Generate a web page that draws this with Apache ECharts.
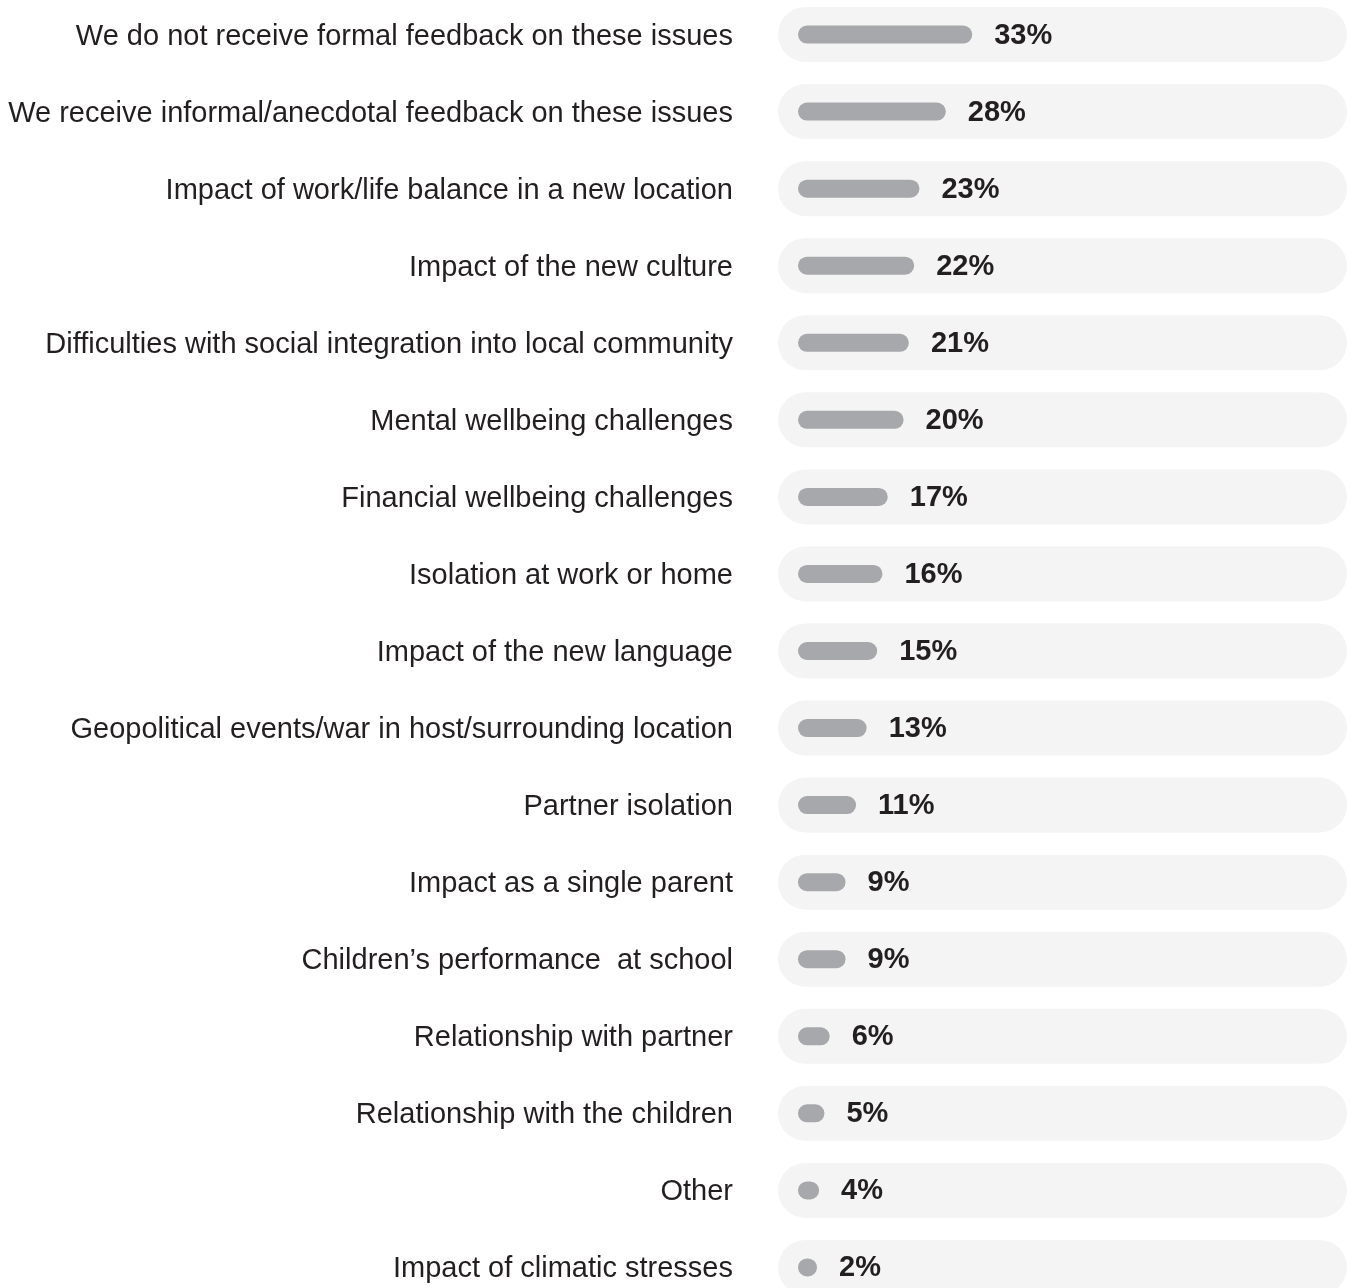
<!DOCTYPE html>
<html>
<head>
<meta charset="utf-8">
<script src="https://cdn.jsdelivr.net/npm/echarts@6/dist/echarts.min.js"></script>
<style>
html,body{margin:0;padding:0;background:#fff;}
#chart{width:1354px;height:1288px;}
</style>
</head>
<body>
<div id="chart"></div>
<script>
const categories = [
  "We do not receive formal feedback on these issues",
  "We receive informal/anecdotal feedback on these issues",
  "Impact of work/life balance in a new location",
  "Impact of the new culture",
  "Difficulties with social integration into local community",
  "Mental wellbeing challenges",
  "Financial wellbeing challenges",
  "Isolation at work or home",
  "Impact of the new language",
  "Geopolitical events/war in host/surrounding location",
  "Partner isolation",
  "Impact as a single parent",
  "Children\u2019s performance  at school",
  "Relationship with partner",
  "Relationship with the children",
  "Other",
  "Impact of climatic stresses"
];
const values = [33, 28, 23, 22, 21, 20, 17, 16, 15, 13, 11, 9, 9, 6, 5, 4, 2];

const chart = echarts.init(document.getElementById('chart'), null, {renderer: 'canvas'});
const FONT = '"Liberation Sans", Arial, Helvetica, sans-serif';
const gridTop = -4, gridHeight = 1310;
chart.setOption({
  animation: false,
  backgroundColor: '#ffffff',
  grid: [
    {left: 778, right: 7, top: gridTop, height: gridHeight, containLabel: false, outerBoundsMode: 'none'},
    {left: 798, width: 528, top: gridTop, height: gridHeight, containLabel: false, outerBoundsMode: 'none'},
    {left: 778, right: 7, top: gridTop + 2, height: gridHeight, containLabel: false, outerBoundsMode: 'none'}
  ],
  xAxis: [
    {gridIndex: 0, type: 'value', min: 0, max: 1, show: false},
    {gridIndex: 1, type: 'value', min: 0, max: 100, show: false},
    {gridIndex: 2, type: 'value', min: 0, max: 1, show: false}
  ],
  yAxis: [
    {gridIndex: 0, type: 'category', data: categories, inverse: true, show: false},
    {gridIndex: 1, type: 'category', data: categories, inverse: true, show: false},
    {
      gridIndex: 2, type: 'category', data: categories, inverse: true,
      axisLine: {show: false}, axisTick: {show: false}, splitLine: {show: false},
      axisLabel: {margin: 45, color: '#231f20', fontSize: 29, fontFamily: FONT}
    }
  ],
  series: [
    {
      type: 'bar', xAxisIndex: 0, yAxisIndex: 0, silent: true,
      data: categories.map(() => 1),
      barWidth: 55,
      itemStyle: {color: '#f4f4f4', borderRadius: 27.5}
    },
    {
      type: 'bar', xAxisIndex: 1, yAxisIndex: 1,
      data: values,
      barWidth: 18,
      barMinHeight: 19,
      itemStyle: {color: '#a7a8ab', borderRadius: 9},
      label: {
        show: true, position: 'right', distance: 22, offset: [0, 1],
        formatter: '{c}%', color: '#231f20', fontSize: 29, fontWeight: 'bold', fontFamily: FONT
      }
    }
  ]
});
</script>
</body>
</html>
